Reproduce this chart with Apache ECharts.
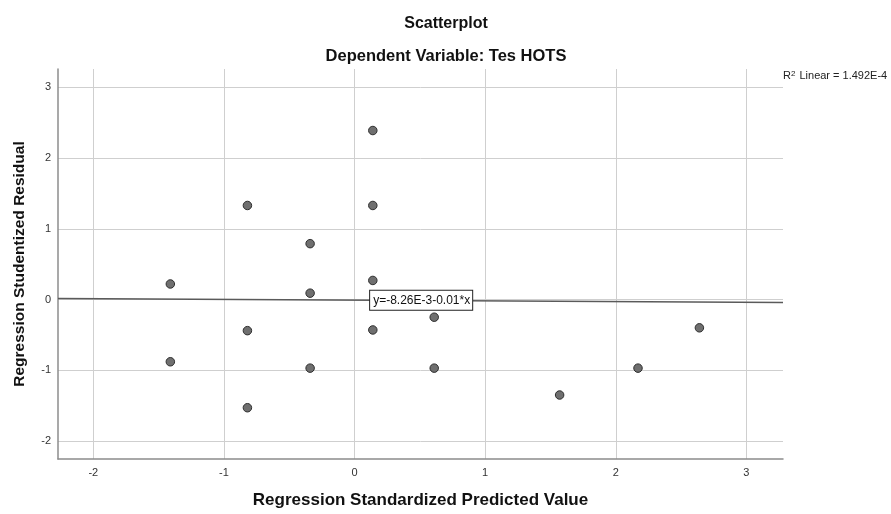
<!DOCTYPE html>
<html>
<head>
<meta charset="utf-8">
<script src="https://cdn.jsdelivr.net/npm/echarts@6/dist/echarts.min.js"></script>
<style>
html,body{margin:0;padding:0;background:#fff;}
#chart{width:891px;height:514px;}
</style>
</head>
<body>
<div id="chart"></div>
<script>
// Data
const predictedX = [-1.41, -1.41, -0.82, -0.82, -0.82, -0.34, -0.34, -0.34, 0.14, 0.14, 0.14, 0.14, 0.61, 0.61, 1.57, 2.17, 2.64];
const residualY  = [0.22, -0.88, 1.33, -0.44, -1.53, 0.79, 0.09, -0.97, 2.39, 1.33, 0.27, -0.43, -0.25, -0.97, -1.35, -0.97, -0.40];
const fitLineX = [-2.27, 3.28];
const fitLineY = [0.0144, -0.0411];
const equationText = 'y=-8.26E-3-0.01*x';
const r2Text = 'R{sup|2} Linear = 1.492E-4';
const titleText = 'Scatterplot';
const subtitleText = 'Dependent Variable: Tes HOTS';
const xAxisName = 'Regression Standardized Predicted Value';
const yAxisName = 'Regression Studentized Residual';

const FONT = 'Arial, "Liberation Sans", sans-serif';
const points = predictedX.map((x, i) => [x, residualY[i]]);
const fitLine = fitLineX.map((x, i) => [x, fitLineY[i]]);

const chart = echarts.init(document.getElementById('chart'), null, {renderer: 'canvas'});
const intLabel = v => (Math.abs(v - Math.round(v)) < 1e-9 ? String(Math.round(v)) : '');

chart.setOption({
  animation: false,
  backgroundColor: '#fff',
  textStyle: {fontFamily: FONT},
  title: [
    {text: titleText, left: 441, top: 11, textAlign: 'center',
     textStyle: {fontFamily: FONT, fontSize: 16, fontWeight: 'bold', color: '#111'}},
    {text: subtitleText, left: 441, top: 43, textAlign: 'center',
     textStyle: {fontFamily: FONT, fontSize: 16.5, fontWeight: 'bold', color: '#111'}}
  ],
  grid: {left: 58, right: 108, top: 69, bottom: 52, containLabel: false},
  xAxis: {
    type: 'value', min: -2.27, max: 3.28, minInterval: 1, maxInterval: 1,
    name: xAxisName, nameLocation: 'middle', nameGap: 33,
    nameTextStyle: {fontFamily: FONT, fontSize: 17, fontWeight: 'bold', color: '#111'},
    axisLine: {show: true, onZero: false, lineStyle: {color: '#8c8c8c', width: 1.5}},
    axisTick: {show: false},
    axisLabel: {show: true, fontFamily: FONT, fontSize: 11, color: '#333', margin: 8,
                showMinLabel: false, showMaxLabel: false, formatter: intLabel},
    splitLine: {show: true, showMinLine: false, showMaxLine: false, lineStyle: {color: '#cfcfcf', width: 1}}
  },
  yAxis: {
    type: 'value', min: -2.255, max: 3.26, minInterval: 1, maxInterval: 1,
    name: yAxisName, nameLocation: 'middle', nameGap: 30, nameRotate: 90,
    nameTextStyle: {fontFamily: FONT, fontSize: 15.5, fontWeight: 'bold', color: '#111'},
    axisLine: {show: true, onZero: false, lineStyle: {color: '#8c8c8c', width: 1.5}},
    axisTick: {show: false},
    axisLabel: {show: true, fontFamily: FONT, fontSize: 11, color: '#333', margin: 7,
                showMinLabel: false, showMaxLabel: false, formatter: intLabel},
    splitLine: {show: true, showMinLine: false, showMaxLine: false, lineStyle: {color: '#cfcfcf', width: 1}}
  },
  graphic: [
    {type: 'text', left: 783, top: 70,
     style: {text: r2Text, fontFamily: FONT, fontSize: 11, fill: '#222',
       rich: {sup: {fontSize: 8, verticalAlign: 'top', fontFamily: FONT, fill: '#222', padding: [0, 1, 4, 0]}}}}
  ],
  series: [
    {
      type: 'line', data: fitLine, symbol: 'none', silent: true, z: 2,
      lineStyle: {color: '#5a5a5a', width: 1.4},
      markPoint: {
        symbol: 'rect', symbolSize: 0, silent: true,
        data: [{coord: [0.51, -0.01], value: equationText}],
        label: {show: true, position: 'inside', formatter: equationText,
          fontFamily: FONT, fontSize: 12, color: '#111', backgroundColor: '#fff',
          borderColor: '#222', borderWidth: 1, padding: [4, 2, 3, 3]}
      }
    },
    {
      type: 'scatter', data: points, symbol: 'circle', symbolSize: 8.5, z: 3,
      itemStyle: {color: '#6f6f6f', borderColor: '#2e2e2e', borderWidth: 1, opacity: 1}
    }
  ]
});
</script>
</body>
</html>
